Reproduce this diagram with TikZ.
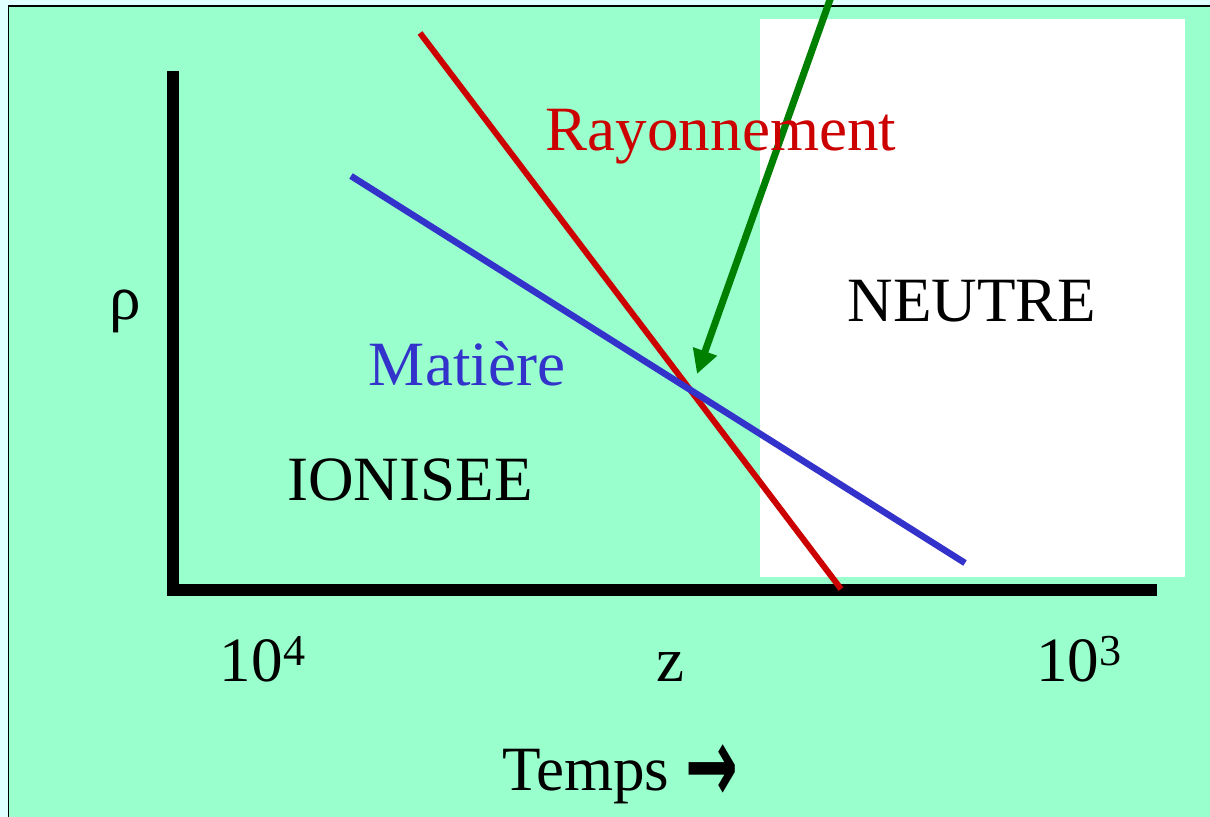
\documentclass[tikz,border=0pt]{standalone}
\usepackage{fontspec}
\setmainfont{Liberation Serif}
\newfontfamily\arrowfont{DejaVu Sans}
\usetikzlibrary{arrows.meta}
\definecolor{mint}{RGB}{153,255,204}
\definecolor{pale}{RGB}{224,255,255}
\definecolor{rayred}{RGB}{204,0,0}
\definecolor{matblue}{RGB}{51,51,204}
\definecolor{arrgreen}{RGB}{0,128,0}
\tikzset{
  lbl/.style={font=\fontsize{35.9}{43}\selectfont, inner sep=0pt, anchor=base},
  axisline/.style={line width=0.24cm, line cap=butt},
}
\begin{document}
\begin{tikzpicture}[x=0.02cm, y=-0.02cm]
\useasboundingbox (0,0) rectangle (1210,817);
\fill[pale] (0,0) rectangle (1210,817);
\fill[mint] (8.5,6.5) rectangle (1210,817);
\draw[line width=0.04cm] (8.5,817) -- (8.5,6.5) -- (1210,6.5);
\fill[white] (760,19) rectangle (1185,577);
% axes
\coordinate (ytop) at (173,71);
\coordinate (ybot) at (173,596);
\coordinate (xleft) at (167,590);
\coordinate (xright) at (1157,590);
\draw[axisline] (ytop) -- (ybot);
\draw[axisline] (xleft) -- (xright);
% lines
\coordinate (r1) at (420,33);
\coordinate (r2) at (841,589);
\coordinate (b1) at (351,176);
\coordinate (b2) at (965,563);
\draw[rayred, line width=0.12cm] (r1) -- (r2);
\draw[matblue, line width=0.13cm] (b1) -- (b2);
% green arrow
\coordinate (g1) at (832,-6);
\coordinate (g2) at (697,374);
\draw[arrgreen, line width=0.14cm, -{Triangle[length=0.48cm, width=0.48cm]}] (g1) -- (g2);
% labels
\node[lbl, text=rayred] (ray) at (721,151) {Rayonnement};
\node[lbl] (neutre) at (972,322) {NEUTRE};
\node[lbl, text=matblue] (mat) at (467,385) {Matière};
\node[lbl] (ion) at (410,500) {IONISEE};
\node[lbl] (rho) at (125,320) {ρ};
\node[lbl] (t4) at (263,681) {10\textsuperscript{4}};
\node[lbl] (zz) at (670,681) {z};
\node[lbl] (t3) at (1079,681) {10\textsuperscript{3}};
\node[lbl] (temps) at (620,790) {Temps \raisebox{-0.2em}{\scalebox{1}[1.7]{\arrowfont\bfseries →}}};
\end{tikzpicture}
\end{document}
